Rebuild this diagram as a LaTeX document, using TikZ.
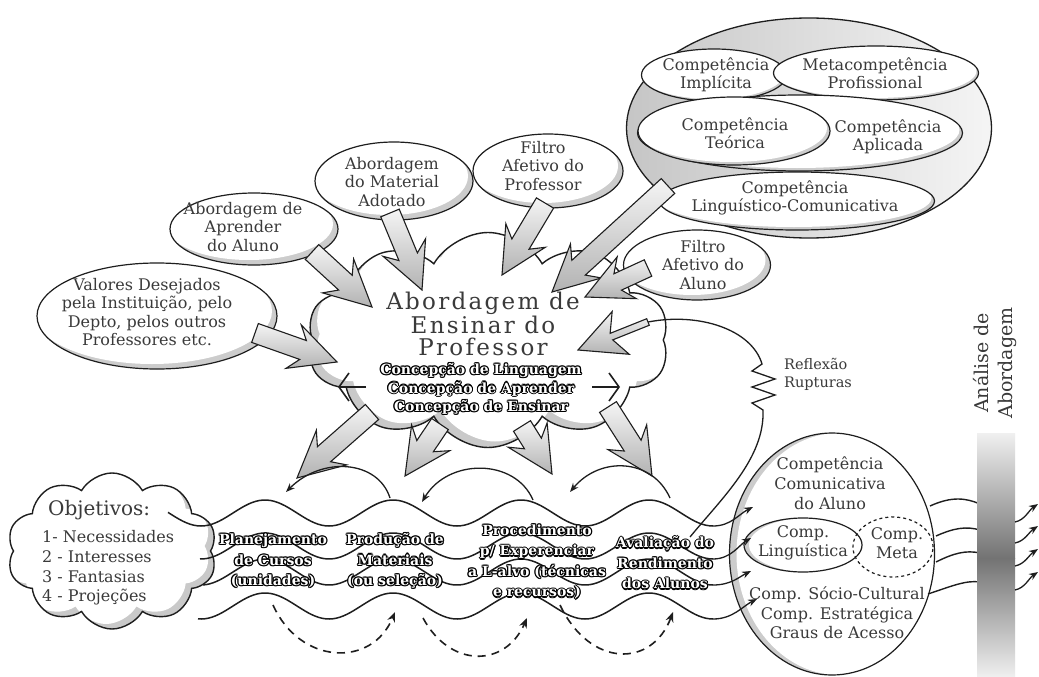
\documentclass[tikz,border=0pt]{standalone}
\usepackage{fontspec}
\setmainfont{DejaVu Serif}
\newfontfamily\titlefont[LetterSpace=10]{DejaVu Serif}
\usetikzlibrary{shapes.symbols,shapes.geometric,arrows.meta,calc}
\definecolor{txt}{HTML}{3A3A3A}
\definecolor{ln}{HTML}{1E1E1E}
\newdimen\olw \olw=1.2pt
\newcommand\olt[1]{\begingroup\setbox0=\hbox{#1}%
\leavevmode\rlap{\color{black}%
\rlap{\kern-\olw\copy0}\rlap{\kern\olw\copy0}%
\rlap{\raise\olw\copy0}\rlap{\lower\olw\copy0}%
\rlap{\kern-.7\olw\raise.7\olw\copy0}\rlap{\kern.7\olw\raise.7\olw\copy0}%
\rlap{\kern-.7\olw\lower.7\olw\copy0}\rlap{\kern.7\olw\lower.7\olw\copy0}}%
\color{white}\copy0\endgroup}
% block arrow: #1 name prefix, #2 tail, #3 tip, #4 shaft half width
\newcommand\barrow[4]{%
 \coordinate (#1hb) at ($(#3)!36pt!(#2)$);
 \coordinate (#1hc) at ($(#3)!46pt!(#2)$);
 \draw[barrowst] ($(#2)!#4!90:(#3)$) -- ($(#1hb)!#4!-90:(#2)$) -- ($(#1hc)!23pt!-90:(#2)$) -- (#3)
   -- ($(#1hc)!23pt!90:(#2)$) -- ($(#1hb)!#4!90:(#2)$) -- ($(#2)!#4!-90:(#3)$) -- cycle;}
\begin{document}
\begin{tikzpicture}[x=1pt,y=-1pt,
 bubble/.style={ellipse, draw=ln, line width=1.2pt, fill=gray!40, inner sep=0pt,
   path picture={\fill[white] let \p1=(path picture bounding box.north east), \p2=(path picture bounding box.center) in ([shift={(#1)}]\p2) ellipse [x radius={\x1-\x2}, y radius={\y1-\y2}];}},
 bubble/.default={-5pt,5pt},
 btxt/.style={text=txt, align=center, font=\fontsize{16}{18.5}\selectfont, inner sep=0pt},
 oltxt/.style={align=center, font=\bfseries\fontsize{14}{20.5}\selectfont, inner sep=0pt},
 barrowst/.style={draw=ln, line width=1.1pt, top color=gray!8, bottom color=gray!60},
 thinarr/.style={line width=1.3pt, draw=ln, -{Stealth[length=9pt,width=7pt]}},
 wave/.style={line width=1.5pt, draw=ln},
 dasharr/.style={line width=1.6pt, draw=ln, dash pattern=on 8pt off 6pt, -{Stealth[length=10pt,width=8pt]}},
 cloudA/.style={cloud, cloud puffs=10, cloud puff arc=120, cloud ignores aspect, minimum width=362pt, minimum height=215pt},
 cloudB/.style={cloud, cloud puffs=10, cloud puff arc=120, cloud ignores aspect, minimum width=210pt, minimum height=156pt}
]
\useasboundingbox (0,0) rectangle (1039,677);
\fill[white] (0,0) rectangle (1039,677);

% ---------- central cloud (drawn first) ----------
\node[cloudA, fill=gray!42, draw=none] (clS) at (488,340) {};
\node[cloudA, fill=white, draw=none] (clW) at (495,334) {};
\node[cloudA, draw=ln, line width=1.4pt] (cl) at (488,340) {};

% ---------- top right competence group ----------
\node[ellipse, minimum width=365pt, minimum height=220pt, draw=ln, line width=1.3pt, left color=gray!45, right color=gray!8] (bigc) at (809,128) {};
\node[bubble={-2pt,2pt}, minimum width=145pt, minimum height=52pt] (impE) at (714,75) {};
\node[bubble={-2pt,2pt}, minimum width=205pt, minimum height=54pt] (metE) at (876,73) {};
\node[bubble={-3pt,3pt}, minimum width=325pt, minimum height=76pt] (aplE) at (800,133) {};
\node[bubble={-3pt,3pt}, minimum width=192pt, minimum height=68pt] (teoE) at (734,131) {};
\node[bubble={-3pt,3pt}, minimum width=275pt, minimum height=58pt] (linE) at (797,201) {};
\node[btxt] (impT) at (716,75) {Competência\\Implícita};
\node[btxt] (metT) at (875,73) {Metacompetência\\Profissional};
\node[btxt] (aplT) at (888,137) {Competência\\Aplicada};
\node[btxt] (teoT) at (735,133) {Competência\\Teórica};
\node[btxt] (linT) at (795,198) {Competência\\Linguístico-Comunicativa};

% ---------- left / top bubbles ----------
\node[bubble, minimum width=240pt, minimum height=106pt] (valE) at (157,316) {};
\node[btxt] (valT) at (147,312) {Valores Desejados\\pela Instituição, pelo\\Depto, pelos outros\\Professores etc.};
\node[bubble, minimum width=168pt, minimum height=72pt] (aprE) at (254,229) {};
\node[btxt] (aprT) at (243,227) {Abordagem de\\Aprender\\do Aluno};
\node[bubble, minimum width=158pt, minimum height=78pt] (matE) at (394,181) {};
\node[btxt] (matT) at (392,182) {Abordagem\\do Material\\Adotado};
\node[bubble, minimum width=150pt, minimum height=74pt] (fprE) at (548,171) {};
\node[btxt] (fprT) at (543,166) {Filtro\\Afetivo do\\Professor};
\node[bubble, minimum width=147pt, minimum height=70pt] (falE) at (697,265) {};
\node[btxt] (falT) at (703,265) {Filtro\\Afetivo do\\Aluno};

% incoming block arrows
\coordinate (a1t) at (255,333); \coordinate (a1h) at (337,362);
\coordinate (a2t) at (312,252); \coordinate (a2h) at (372,307);
\coordinate (a3t) at (390,213); \coordinate (a3h) at (422,290);
\coordinate (a4t) at (545,203); \coordinate (a4h) at (502,275);
\coordinate (a5t) at (668,186); \coordinate (a5h) at (552,292);
\coordinate (a6t) at (648,268); \coordinate (a6h) at (585,297);
\coordinate (a7t) at (648,322); \coordinate (a7h) at (578,350);
\barrow{a1}{a1t}{a1h}{10pt}
\barrow{a2}{a2t}{a2h}{10pt}
\barrow{a3}{a3t}{a3h}{10pt}
\barrow{a4}{a4t}{a4h}{10pt}
\barrow{a5}{a5t}{a5h}{10pt}
\barrow{a6}{a6t}{a6h}{9pt}

% reflexion loop
\coordinate (rl0) at (690,537);
\draw[line width=1.3pt, draw=ln] (rl0) .. controls (722,498) and (765,458) .. (763,410)
  -- (752,403) -- (775,395) -- (752,387) -- (775,379) -- (752,371) -- (762,364)
  .. controls (752,330) and (700,312) .. (a7t);
\barrow{a7}{a7t}{a7h}{3.5pt}
\node[text=txt, align=left, font=\fontsize{14.5}{18}\selectfont, inner sep=0pt] (refl) at (818,374) {Reflexão\\Rupturas};

% outgoing block arrows
\coordinate (b1t) at (372,412); \coordinate (b1h) at (297,478);
\coordinate (b2t) at (440,424); \coordinate (b2h) at (405,476);
\coordinate (b3t) at (522,426); \coordinate (b3h) at (552,474);
\coordinate (b4t) at (608,407); \coordinate (b4h) at (652,476);
\barrow{b1}{b1t}{b1h}{10pt}
\barrow{b2}{b2t}{b2h}{10pt}
\barrow{b3}{b3t}{b3h}{10pt}
\barrow{b4}{b4t}{b4h}{10pt}

% cloud texts
\node[text=txt, align=center, font=\titlefont\fontsize{23}{22.5}\selectfont, inner sep=0pt] (title) at (483,324) {Abordagem de\\Ensinar do\\Professor};
\node[oltxt, font=\bfseries\fontsize{14}{18.5}\selectfont] (conc) at (481,389) {\olt{Concepção de Linguagem}\\\olt{Concepção de Aprender}\\\olt{Concepção de Ensinar}};
\coordinate (laH) at (338,387); \coordinate (laT) at (366,387);
\coordinate (raH) at (620,387); \coordinate (raT) at (592,387);
\draw[line width=1.6pt, draw=ln, -{Straight Barb[length=10pt,width=28pt,line width=1.6pt]}] (laT) -- (laH);
\draw[line width=1.6pt, draw=ln, -{Straight Barb[length=10pt,width=28pt,line width=1.6pt]}] (raT) -- (raH);

% ---------- objetivos cloud ----------
\node[cloudB, fill=gray!42, draw=none] (objS) at (112,551) {};
\node[cloudB, fill=white, draw=none] (objW) at (106,546) {};
\node[cloudB, draw=ln, line width=1.4pt] (obj) at (112,551) {};
\node[text=txt, anchor=west, font=\fontsize{20}{22}\selectfont, inner sep=0pt] (objH) at (48,510) {Objetivos:};
\node[text=txt, anchor=west, align=left, font=\fontsize{16}{19.7}\selectfont, inner sep=0pt] (objL) at (42,568) {1- Necessidades\\2 - Interesses\\3 - Fantasias\\4 - Projeções};

% ---------- right ellipse ----------
\node[bubble={7pt,0pt}, minimum width=205pt, minimum height=242pt] (ccE) at (832,554) {};
\node[bubble={5pt,0pt}, minimum width=118pt, minimum height=54pt] (clE) at (803,545) {};
\node[ellipse, draw=ln, dashed, line width=1.2pt, minimum width=80pt, minimum height=60pt] (cmE) at (893,547) {};
\node[btxt, font=\fontsize{16}{20}\selectfont] (ccT) at (830,483) {Competência\\Comunicativa\\do Aluno};
\node[btxt, font=\fontsize{16}{19}\selectfont] (clT) at (803,543) {Comp.\\Linguística};
\node[btxt, font=\fontsize{16}{19}\selectfont] (cmT) at (897,543) {Comp.\\Meta};
\node[btxt, font=\fontsize{16}{19.5}\selectfont] (csT) at (837,613) {Comp. Sócio-Cultural\\Comp. Estratégica\\Graus de Acesso};

% ---------- waves ----------
\draw[wave] plot[domain=168:713, samples=150, smooth] (\x, {513+13*cos((\x-713)*2.8125)});
\draw[wave] plot[domain=200:713, samples=150, smooth] (\x, {546+13*cos((\x-713)*2.8125)});
\draw[wave] plot[domain=203:713, samples=150, smooth] (\x, {572+13*cos((\x-713)*2.8125)});
\draw[wave] plot[domain=198:713, samples=150, smooth] (\x, {606+13*cos((\x-713)*2.8125)});
\coordinate (w1e) at (713,526); \coordinate (w1h) at (753,507);
\coordinate (w2e) at (713,559); \coordinate (w2h) at (751,538);
\coordinate (w3e) at (713,585); \coordinate (w3h) at (751,571);
\coordinate (w4e) at (713,619); \coordinate (w4h) at (757,599);
\draw[thinarr] (w1e) .. controls (731,526) and (739,514) .. (w1h);
\draw[thinarr] (w2e) .. controls (731,559) and (739,545) .. (w2h);
\draw[thinarr] (w3e) .. controls (731,585) and (739,577) .. (w3h);
\draw[thinarr] (w4e) .. controls (733,619) and (743,606) .. (w4h);

% feedback curves
\coordinate (c1s) at (390,498); \coordinate (c1e) at (286,492);
\coordinate (c2s) at (533,500); \coordinate (c2e) at (422,502);
\coordinate (c3s) at (670,498); \coordinate (c3e) at (570,492);
\draw[thinarr] (c1s) .. controls (378,460) and (322,456) .. (c1e);
\draw[thinarr] (c2s) .. controls (515,458) and (448,458) .. (c2e);
\draw[thinarr] (c3s) .. controls (652,458) and (600,456) .. (c3e);

% dashed arrows
\coordinate (d1s) at (273,605); \coordinate (d1e) at (395,612);
\coordinate (d2s) at (423,618); \coordinate (d2e) at (527,618);
\coordinate (d3s) at (560,605); \coordinate (d3e) at (673,612);
\draw[dasharr] (d1s) .. controls (300,665) and (372,668) .. (d1e);
\draw[dasharr] (d2s) .. controls (450,668) and (505,668) .. (d2e);
\draw[dasharr] (d3s) .. controls (590,668) and (652,668) .. (d3e);

% band texts
\node[oltxt] (pl) at (273,561) {\olt{Planejamento}\\\olt{de Cursos}\\\olt{(unidades)}};
\node[oltxt] (pr) at (395,561) {\olt{Produção de}\\\olt{Materiais}\\\olt{(ou seleção)}};
\node[oltxt] (pc) at (537,562) {\olt{Procedimento}\\\olt{p/ Experenciar}\\\olt{a L-alvo (técnicas}\\\olt{e recursos)}};
\node[oltxt] (av) at (665,563) {\olt{Avaliação do}\\\olt{Rendimento}\\\olt{dos Alunos}};

% ---------- analysis bar ----------
\coordinate (r1s) at (930,506); \coordinate (r1e) at (980,504);
\coordinate (r2s) at (936,536); \coordinate (r2e) at (980,530);
\coordinate (r3s) at (936,562); \coordinate (r3e) at (980,553);
\coordinate (r4s) at (928,594); \coordinate (r4e) at (980,582);
\draw[line width=1.4pt, draw=ln] (r1s) .. controls (952,496) and (966,498) .. (r1e);
\draw[line width=1.4pt, draw=ln] (r2s) .. controls (954,528) and (966,526) .. (r2e);
\draw[line width=1.4pt, draw=ln] (r3s) .. controls (954,553) and (966,550) .. (r3e);
\draw[line width=1.4pt, draw=ln] (r4s) .. controls (952,586) and (966,580) .. (r4e);
\shade[top color=black!6, bottom color=black!55] (977,433) rectangle (1015,558);
\shade[top color=black!55, bottom color=black!6] (977,558) rectangle (1015,677);
\coordinate (q1s) at (1015,522); \coordinate (q1e) at (1038,504);
\coordinate (q2s) at (1015,543); \coordinate (q2e) at (1038,526);
\coordinate (q3s) at (1015,566); \coordinate (q3e) at (1038,549);
\coordinate (q4s) at (1015,590); \coordinate (q4e) at (1038,572);
\draw[thinarr] (q1s) .. controls (1025,520) and (1029,510) .. (q1e);
\draw[thinarr] (q2s) .. controls (1025,541) and (1029,532) .. (q2e);
\draw[thinarr] (q3s) .. controls (1025,564) and (1029,555) .. (q3e);
\draw[thinarr] (q4s) .. controls (1025,588) and (1029,578) .. (q4e);
\node[text=txt, rotate=90, align=center, font=\fontsize{19}{24}\selectfont, inner sep=0pt] (ana) at (995,363) {Análise de\\Abordagem};
\end{tikzpicture}
\end{document}
